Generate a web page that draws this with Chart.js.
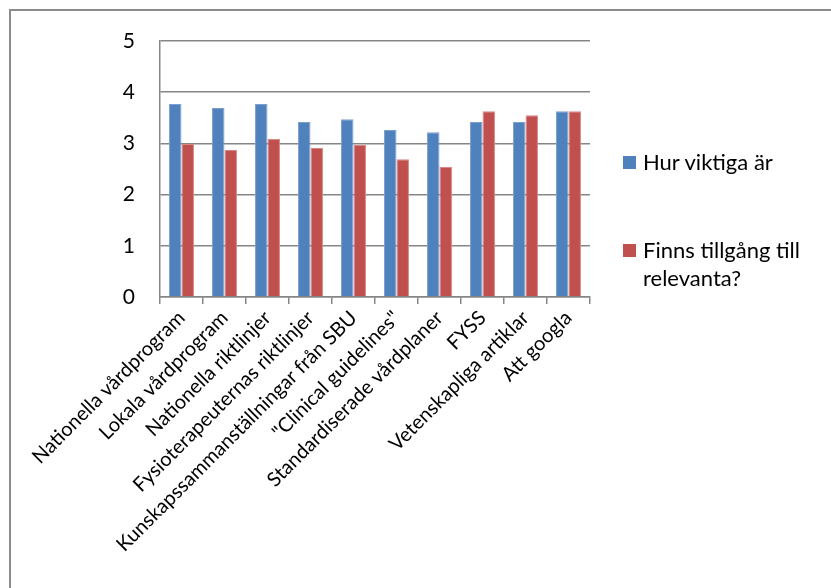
<!DOCTYPE html>
<html>
<head>
<meta charset="utf-8">
<script src="https://cdn.jsdelivr.net/npm/chart.js@4"></script>
<style>
  html, body { margin: 0; padding: 0; background: #fff; }
  #wrap { position: relative; width: 831px; height: 588px; overflow: hidden; font-family: Lato, "Open Sans", sans-serif; }
  #frame { position: absolute; left: 9px; top: 9px; width: 900px; height: 700px;
           border-left: 2px solid #8c8c8c; border-top: 2px solid #8c8c8c; pointer-events: none; }
  #chart { position: absolute; left: 0; top: 0; }
  #legend { position: absolute; left: 623px; top: 0; width: 205px; }
  .item { position: absolute; left: 0; width: 205px; }
  .sw { position: absolute; left: 0; width: 13px; height: 13px; }
  .txt { position: absolute; left: 20px; width: 185px; font-size: 22px; line-height: 28px; color: #000; }
</style>
</head>
<body>
<div id="wrap">
  <canvas id="chart" width="831" height="588"></canvas>
  <div id="legend"></div>
  <div id="frame"></div>
</div>
<script>
// Categories (information sources) and the two answer series
const categories = [
  'Nationella vårdprogram',
  'Lokala vårdprogram',
  'Nationella riktlinjer',
  'Fysioterapeuternas riktlinjer',
  'Kunskapssammanställningar från SBU',
  '"Clinical guidelines"',
  'Standardiserade vårdplaner',
  'FYSS',
  'Vetenskapliga artiklar',
  'Att googla'
];
const seriesNames = ['Hur viktiga är', 'Finns tillgång till relevanta?'];
const hurViktiga = [3.77, 3.69, 3.77, 3.42, 3.47, 3.26, 3.22, 3.42, 3.42, 3.63];
const finnsTillgang = [2.99, 2.87, 3.09, 2.91, 2.97, 2.69, 2.54, 3.63, 3.55, 3.63];
const yTicks = [0, 1, 2, 3, 4, 5];
const colors = ['#4F81BD', '#C0504D'];

const gridGray = '#868686';

new Chart(document.getElementById('chart'), {
  type: 'bar',
  data: {
    labels: categories,
    datasets: [
      { label: seriesNames[0], data: hurViktiga, backgroundColor: colors[0],
        borderColor: '#7d9fcf', borderWidth: { top: 1, left: 1, right: 1, bottom: 0 } },
      { label: seriesNames[1], data: finnsTillgang, backgroundColor: colors[1],
        borderColor: '#d98684', borderWidth: { top: 1, left: 1, right: 1, bottom: 0 } }
    ]
  },
  options: {
    responsive: false,
    animation: false,
    events: [],
    layout: { padding: { left: 0, top: 41, right: 241, bottom: 0 } },
    datasets: { bar: { categoryPercentage: 0.58, barPercentage: 1.0 } },
    plugins: { legend: { display: false }, tooltip: { enabled: false } },
    scales: {
      y: {
        min: 0, max: 5,
        afterBuildTicks: (s) => { s.ticks = yTicks.map(v => ({ value: v })); },
        afterFit: (s) => { s.width = 160; },
        border: { display: true, color: gridGray, width: 1.5 },
        grid: { color: gridGray, lineWidth: 1.5, drawTicks: false },
        ticks: { padding: 25, color: '#000', font: { family: 'Lato', size: 21 } }
      },
      x: {
        afterFit: (s) => { s.height = 588 - 297; },
        border: { display: true, color: gridGray, width: 1.5 },
        grid: { display: true, drawOnChartArea: false, drawTicks: true, tickLength: 7,
                color: gridGray, lineWidth: 1.5 },
        ticks: { minRotation: 45, maxRotation: 45, autoSkip: false, padding: 2,
                 color: '#000', font: { family: 'Lato', size: 20 } }
      }
    }
  }
});

// Legend built from the series names
const legend = document.getElementById('legend');
const itemTops = [148, 236];
seriesNames.forEach((name, i) => {
  const item = document.createElement('div');
  item.className = 'item';
  item.style.top = itemTops[i] + 'px';
  const sw = document.createElement('div');
  sw.className = 'sw';
  sw.style.background = colors[i];
  sw.style.top = '8px';
  const txt = document.createElement('div');
  txt.className = 'txt';
  txt.textContent = name;
  item.appendChild(sw);
  item.appendChild(txt);
  legend.appendChild(item);
});
</script>
</body>
</html>
